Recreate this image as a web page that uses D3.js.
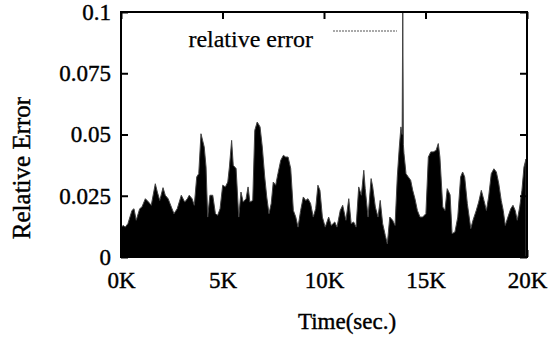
<!DOCTYPE html>
<html>
<head>
<meta charset="utf-8">
<script src="https://cdn.jsdelivr.net/npm/d3@7"></script>
<style>
  html, body { margin: 0; padding: 0; background: #fff; }
  svg { display: block; }
  text { font-family: "Liberation Serif", "DejaVu Serif", serif; fill: #000; stroke: #000; stroke-width: 0.4px; }
</style>
</head>
<body>
<svg id="chart" width="555" height="339"></svg>
<script>
// ---- data ----
const times = [0,100,210,340,540,640,750,920,1030,1200,1360,1490,1690,1790,1910,2070,2180,2320,2480,2610,2770,2970,3140,3270,
  3360,3500,3610,3730,3830,3940,4020,4100,4190,4270,4380,4520,4650,4760,4880,5010,5140,5260,5340,5450,5530,5670,5800,5910,6020,6160,6260,6350,6490,6590,
  6710,6850,6960,7080,7180,7290,7400,7500,7620,7730,7870,8000,8110,8230,8360,8490,8610,8720,8850,8980,9100,9210,9340,9470,9590,9700,9800,9920,
  10060,10230,10360,10530,10640,10800,10920,11080,11220,11340,11460,11580,11710,11840,11960,12030,12170,12320,12400,12530,12660,12770,12890,13020,13120,13240,
  13380,13500,13610,13710,13790,13850,13880,13910,13940,14040,14150,14270,14370,14480,14600,14730,14860,15020,15140,15260,15380,15520,15630,15710,15850,15960,16070,16210,16310,16450,16590,
  16730,16830,16930,17060,17230,17340,17500,17620,17750,17880,18000,18110,18240,18370,18490,18610,18730,18830,18930,19060,19200,19310,19420,19520,19640,19750,19850,19950];
const relErr = [0.0120,0.0129,0.0122,0.0136,0.0190,0.0197,0.0150,0.0197,0.0204,0.0238,0.0224,0.0211,0.0299,0.0265,0.0231,0.0283,0.0252,0.0238,0.0204,0.0177,0.0197,0.0252,0.0224,0.0238,
  0.0252,0.0238,0.0211,0.0327,0.0340,0.0503,0.0476,0.0449,0.0367,0.0163,0.0252,0.0252,0.0177,0.0170,0.0197,0.0293,0.0286,0.0306,0.0367,0.0476,0.0374,0.0361,0.0163,0.0265,0.0224,0.0238,0.0286,0.0224,0.0231,0.0517,
  0.0551,0.0531,0.0449,0.0327,0.0245,0.0177,0.0218,0.0306,0.0293,0.0340,0.0395,0.0415,0.0408,0.0408,0.0361,0.0190,0.0163,0.0122,0.0190,0.0245,0.0231,0.0238,0.0218,0.0163,0.0197,0.0293,0.0272,0.0163,
  0.0122,0.0163,0.0129,0.0143,0.0122,0.0190,0.0211,0.0150,0.0238,0.0136,0.0143,0.0122,0.0286,0.0252,0.0354,0.0279,0.0163,0.0320,0.0286,0.0204,0.0163,0.0231,0.0136,0.0088,0.0054,0.0163,
  0.0150,0.0129,0.0327,0.0449,0.0531,0.0500,0.1050,0.0460,0.0422,0.0340,0.0327,0.0313,0.0272,0.0238,0.0190,0.0163,0.0163,0.0177,0.0408,0.0429,0.0429,0.0435,0.0463,0.0408,0.0204,0.0190,0.0279,0.0254,0.0095,0.0102,0.0163,
  0.0327,0.0347,0.0327,0.0218,0.0116,0.0150,0.0190,0.0224,0.0272,0.0231,0.0190,0.0245,0.0340,0.0360,0.0347,0.0299,0.0231,0.0190,0.0129,0.0163,0.0197,0.0211,0.0190,0.0150,0.0204,0.0272,0.0367,0.0400];
const xTicks = [0, 5000, 10000, 15000, 20000];
const xTickLabels = ["0K", "5K", "10K", "15K", "20K"];
const yTicks = [0, 0.025, 0.05, 0.075, 0.1];
const yTickLabels = ["0", "0.025", "0.05", "0.075", "0.1"];
const seriesName = "relative error";
const xTitle = "Time(sec.)";
const yTitle = "Relative Error";

// ---- layout ----
const L = 121, R = 527, T = 12, B = 257;
const svg = d3.select("#chart");
const x = d3.scaleLinear().domain([0, 20000]).range([L, R]);
const y = d3.scaleLinear().domain([0, 0.1]).range([B, T]);

svg.append("defs").append("clipPath").attr("id", "plotclip")
  .append("rect").attr("x", L).attr("y", T).attr("width", R - L).attr("height", B - T);

const data = times.map((t, i) => ({ t, v: relErr[i] }));

// series (dense line shown as filled trace)
svg.append("path")
  .datum(data)
  .attr("clip-path", "url(#plotclip)")
  .attr("fill", "#000")
  .attr("stroke", "#444")
  .attr("stroke-width", 1)
  .attr("d", d3.area().x(d => x(d.t)).y0(B).y1(d => y(d.v)));

// axes
const fmtX = d => xTickLabels[xTicks.indexOf(d)];
const fmtY = d => yTickLabels[yTicks.indexOf(d)];

const gx = svg.append("g").attr("transform", `translate(0,${B})`)
  .call(d3.axisBottom(x).tickValues(xTicks).tickFormat(fmtX).tickSizeInner(-7).tickSizeOuter(0).tickPadding(15));
const gxTop = svg.append("g").attr("transform", `translate(0,${T})`)
  .call(d3.axisTop(x).tickValues(xTicks).tickFormat("").tickSizeInner(-7).tickSizeOuter(0));
const gy = svg.append("g").attr("transform", `translate(${L},0)`)
  .call(d3.axisLeft(y).tickValues(yTicks).tickFormat(fmtY).tickSizeInner(-7).tickSizeOuter(0).tickPadding(10));
const gyR = svg.append("g").attr("transform", `translate(${R},0)`)
  .call(d3.axisRight(y).tickValues(yTicks).tickFormat("").tickSizeInner(-7).tickSizeOuter(0));

[gx, gxTop, gy, gyR].forEach(g => {
  g.select(".domain").remove();
  g.selectAll(".tick line").attr("stroke", "#000").attr("stroke-width", 2);
  g.selectAll(".tick text").style("font-family", "'Liberation Serif', serif").style("font-size", "23px")
    .attr("fill", "#000").attr("stroke", "#000").attr("stroke-width", 0.4);
});

// frame
svg.append("rect").attr("x", L).attr("y", T).attr("width", R - L).attr("height", B - T)
  .attr("fill", "none").attr("stroke", "#000").attr("stroke-width", 2);

// legend
svg.append("text").attr("x", 313).attr("y", 47).attr("text-anchor", "end")
  .style("font-size", "24px").style("stroke-width", "0.25px").text(seriesName);
svg.append("line").attr("x1", 333).attr("x2", 397).attr("y1", 31).attr("y2", 31)
  .attr("stroke", "#555").attr("stroke-width", 1.2).attr("stroke-dasharray", "2,1");

// titles
svg.append("text").attr("x", 347).attr("y", 329).attr("text-anchor", "middle")
  .style("font-size", "23px").text(xTitle);
svg.append("text").attr("transform", "translate(30,168) rotate(-90)").attr("text-anchor", "middle")
  .style("font-size", "25px").text(yTitle);
</script>
</body>
</html>
